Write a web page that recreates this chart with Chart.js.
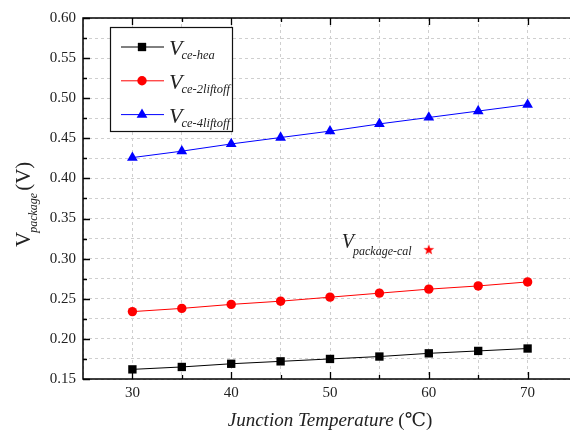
<!DOCTYPE html>
<html>
<head>
<meta charset="utf-8">
<script src="https://cdn.jsdelivr.net/npm/chart.js@4/dist/chart.umd.min.js"></script>
<style>
  html, body { margin: 0; padding: 0; background: #fff; overflow: hidden; }
  #wrap { width: 570px; height: 434px; overflow: hidden; }
</style>
</head>
<body>
<div id="wrap"><canvas id="vChart" width="584" height="434"></canvas></div>
<script>
// --- data ---
const temps = [30, 35, 40, 45, 50, 55, 60, 65, 70];
const vHea = [0.162, 0.165, 0.169, 0.172, 0.175, 0.178, 0.182, 0.185, 0.188];
const v2lift = [0.234, 0.238, 0.243, 0.247, 0.252, 0.257, 0.262, 0.266, 0.271];
const v4lift = [0.426, 0.434, 0.443, 0.451, 0.459, 0.468, 0.476, 0.484, 0.492];
const calTemp = [60];
const calV = [0.311];

const xTickLabels = [30, 40, 50, 60, 70];
const yTickLabels = ['0.15', '0.20', '0.25', '0.30', '0.35', '0.40', '0.45', '0.50', '0.55', '0.60'];

const serif = '"Liberation Serif", "DejaVu Serif", serif';

const toPoints = (xs, ys) => xs.map((x, i) => ({ x: x, y: ys[i] }));

// filled red star used as point style
const starImg = document.createElement('canvas');
starImg.width = 12; starImg.height = 12;
(function () {
    const c = starImg.getContext('2d');
    c.fillStyle = '#ff0000';
    c.beginPath();
    for (let i = 0; i < 10; i++) {
        const r = i % 2 === 0 ? 5.6 : 2.3;
        const a = -Math.PI / 2 + i * Math.PI / 5;
        const px = 6 + r * Math.cos(a), py = 6 + r * Math.sin(a);
        if (i === 0) c.moveTo(px, py); else c.lineTo(px, py);
    }
    c.closePath();
    c.fill();
})();

const series = [
    { sub: 'ce-hea', color: '#000000', style: 'rect', radius: 5.9 },
    { sub: 'ce-2liftoff', color: '#ff0000', style: 'circle', radius: 4.7 },
    { sub: 'ce-4liftoff', color: '#0000ff', style: 'triangle', radius: 6.2 }
];

// frame, inward ticks, legend and titles
const decorPlugin = {
    id: 'decor',
    afterDatasetsDraw(chart) {
        const ctx = chart.ctx;
        const area = chart.chartArea;
        const xs = chart.scales.x, ys = chart.scales.y;

        ctx.save();
        ctx.strokeStyle = '#000';
        ctx.lineWidth = 1.5;
        ctx.strokeRect(area.left, area.top, area.right - area.left, area.bottom - area.top);

        ctx.lineWidth = 1.3;
        ctx.beginPath();
        for (let t = 30; t <= 75; t += 5) {
            const px = Math.round(xs.getPixelForValue(t)) + 0.5;
            const len = t % 10 === 0 ? 7 : 4;
            ctx.moveTo(px, area.bottom); ctx.lineTo(px, area.bottom - len);
            ctx.moveTo(px, area.top); ctx.lineTo(px, area.top + len);
        }
        for (let k = 0; k <= 18; k++) {
            const v = 0.15 + k * 0.025;
            const py = Math.round(ys.getPixelForValue(v)) + 0.5;
            const len = k % 2 === 0 ? 7 : 4;
            ctx.moveTo(area.left, py); ctx.lineTo(area.left + len, py);
            ctx.moveTo(area.right, py); ctx.lineTo(area.right - len, py);
        }
        ctx.stroke();

        // legend box
        const bx = area.left + 27, by = area.top + 9, bw = 122, bh = 104;
        ctx.fillStyle = '#fff';
        ctx.fillRect(bx, by, bw, bh);
        ctx.lineWidth = 1.2;
        ctx.strokeStyle = '#111';
        ctx.strokeRect(bx + 0.5, by + 0.5, bw, bh);

        series.forEach((s, i) => {
            const cy = by + 20 + i * 33.8;
            ctx.strokeStyle = s.color;
            ctx.lineWidth = 1;
            ctx.beginPath();
            ctx.moveTo(bx + 11, cy); ctx.lineTo(bx + 54, cy);
            ctx.stroke();
            ctx.fillStyle = s.color;
            Chart.helpers.drawPoint(ctx, { pointStyle: s.style, radius: s.radius, borderWidth: 0 }, bx + 32, cy);

            ctx.fillStyle = '#222';
            ctx.textAlign = 'left';
            ctx.textBaseline = 'alphabetic';
            ctx.font = 'italic 22px ' + serif;
            ctx.fillText('V', bx + 59, cy + 8);
            const w = ctx.measureText('V').width;
            ctx.font = 'italic 12.5px ' + serif;
            ctx.fillText(s.sub, bx + 59 + w - 1, cy + 12);
        });

        // label beside the calculated point
        const sx = xs.getPixelForValue(calTemp[0]);
        const sy = ys.getPixelForValue(calV[0]);
        ctx.fillStyle = '#222';
        ctx.font = 'italic 20px ' + serif;
        ctx.fillText('V', sx - 87, sy - 2);
        const wv = ctx.measureText('V').width;
        ctx.font = 'italic 12px ' + serif;
        ctx.fillText('package-cal', sx - 87 + wv - 1, sy + 5);

        // x title
        ctx.font = 'italic 19px ' + serif;
        const t1 = 'Junction Temperature';
        const w1 = ctx.measureText(t1).width;
        ctx.font = '19px ' + serif;
        const t2 = ' (\u2103)';
        const w2 = ctx.measureText(t2).width;
        const x0 = 330 - (w1 + w2) / 2;
        ctx.font = 'italic 19px ' + serif;
        ctx.fillText(t1, x0, 426);
        ctx.font = '19px ' + serif;
        ctx.fillText(t2, x0 + w1, 426);

        // y title, rotated
        ctx.translate(30, 247);
        ctx.rotate(-Math.PI / 2);
        ctx.font = '21px ' + serif;
        ctx.fillText('V', 0, 0);
        const wV = ctx.measureText('V').width;
        ctx.font = 'italic 12px ' + serif;
        ctx.fillText('package', wV - 1, 7);
        const wp = ctx.measureText('package').width;
        ctx.font = '21px ' + serif;
        ctx.fillText('(V)', wV + wp + 1, 0);
        ctx.restore();
    }
};

const ctx = document.getElementById('vChart').getContext('2d');
new Chart(ctx, {
    type: 'line',
    data: {
        datasets: [
            ...[vHea, v2lift, v4lift].map((vals, i) => ({
                label: 'V' + series[i].sub,
                data: toPoints(temps, vals),
                borderColor: series[i].color,
                backgroundColor: series[i].color,
                borderWidth: 1,
                pointStyle: series[i].style,
                pointRadius: series[i].radius,
                pointBorderWidth: 0,
                tension: 0
            })),
            {
                label: 'Vpackage-cal',
                data: toPoints(calTemp, calV),
                showLine: false,
                pointStyle: starImg,
                pointRadius: 6
            }
        ]
    },
    options: {
        responsive: false,
        animation: false,
        layout: { padding: { top: 18, right: 2.5, left: 0, bottom: 0 } },
        plugins: { legend: { display: false }, tooltip: { enabled: false } },
        scales: {
            x: {
                type: 'linear',
                min: 25, max: 75,
                afterFit: (s) => { s.height = 55; },
                ticks: {
                    stepSize: 5,
                    autoSkip: false,
                    maxRotation: 0,
                    padding: 5,
                    color: '#222',
                    font: { family: serif, size: 15 },
                    callback: (v) => xTickLabels.includes(v) ? String(v) : ''
                },
                grid: { color: '#cfcfcf', lineWidth: 1, drawTicks: false },
                border: { display: false, dash: [3, 3] }
            },
            y: {
                min: 0.15, max: 0.60,
                afterFit: (s) => { s.width = 83; },
                ticks: {
                    stepSize: 0.025,
                    autoSkip: false,
                    padding: 7,
                    color: '#222',
                    font: { family: serif, size: 15 },
                    callback: (v) => {
                        const lbl = v.toFixed(2);
                        return Math.abs(v * 20 - Math.round(v * 20)) < 1e-6 && yTickLabels.includes(lbl) ? lbl : '';
                    }
                },
                grid: { color: '#cfcfcf', lineWidth: 1, drawTicks: false },
                border: { display: false, dash: [3, 3] }
            }
        }
    },
    plugins: [decorPlugin]
});
</script>
</body>
</html>
